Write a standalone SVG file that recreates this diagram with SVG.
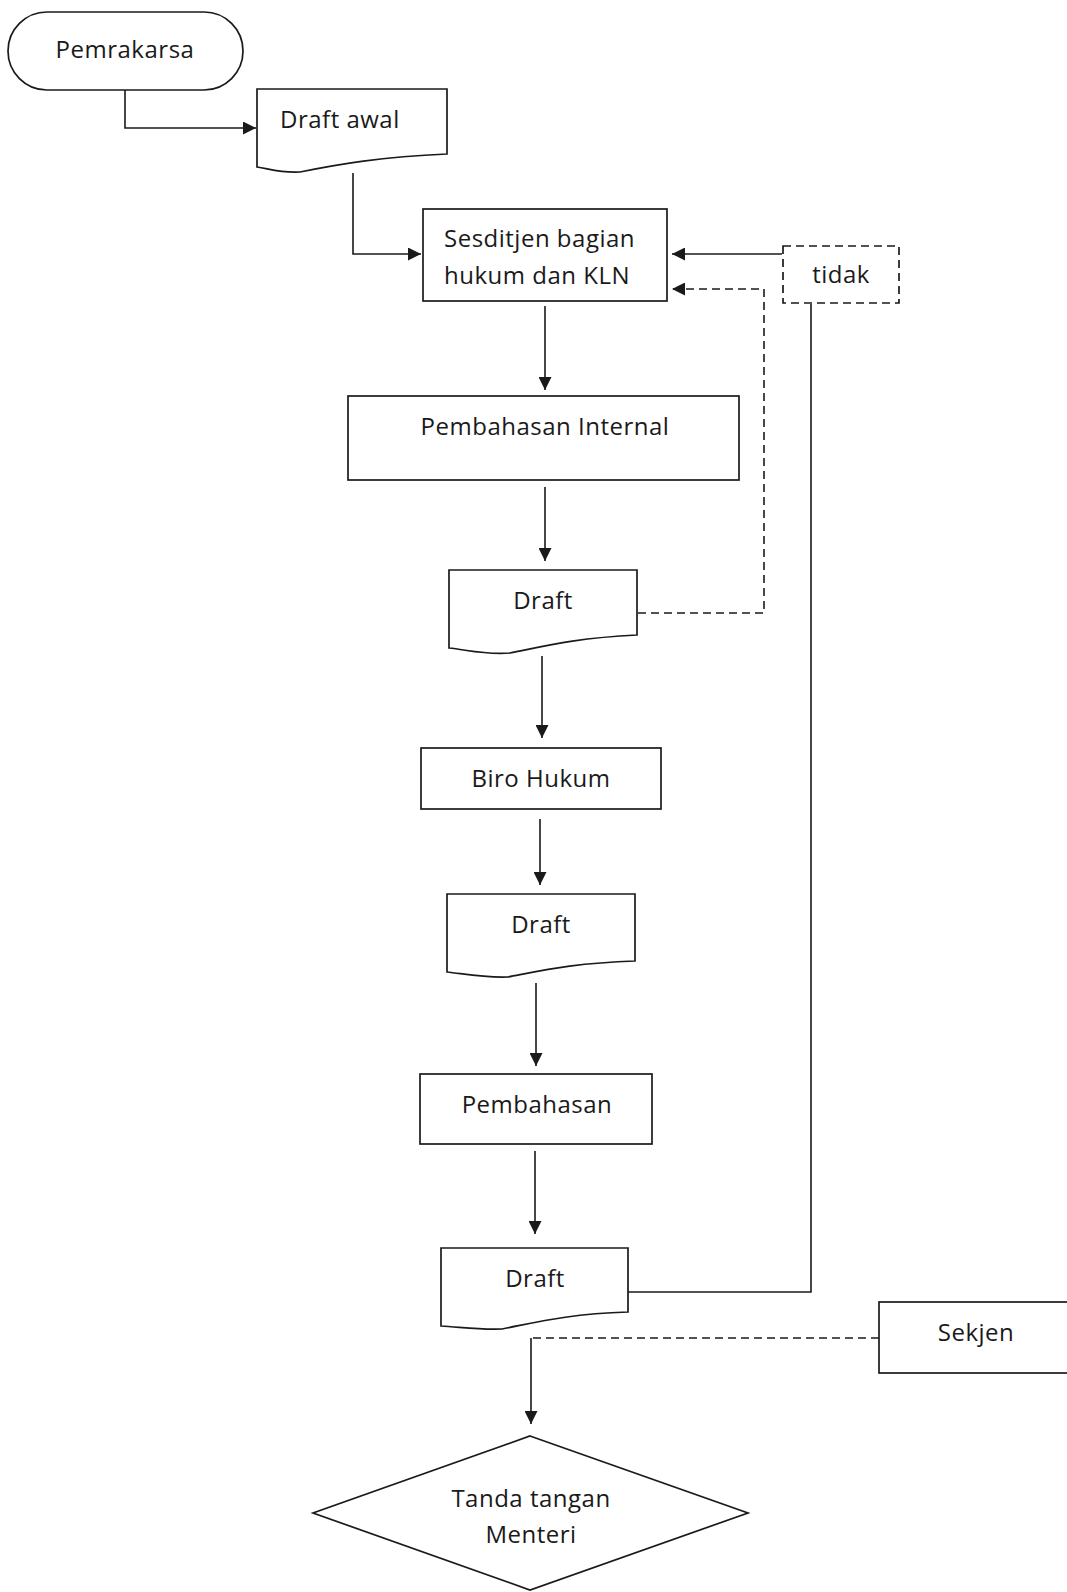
<svg xmlns="http://www.w3.org/2000/svg" width="1067" height="1592" viewBox="0 0 1067 1592">
<style>
  .shape { fill: #ffffff; stroke: #1a1a1a; stroke-width: 1.7; }
  .dshape { fill: #ffffff; stroke: #1a1a1a; stroke-width: 1.7; stroke-dasharray: 8 5; }
  .lbl { font-family: "Open Sans", "Noto Sans", sans-serif; font-size: 24px; fill: #1a1a1a; letter-spacing: 0.5px; }
  .c { text-anchor: middle; }
  .conn { fill: none; stroke: #1a1a1a; stroke-width: 1.6; }
  .dash { stroke-dasharray: 8 5; }
</style>
<defs>
  <marker id="arr" markerUnits="userSpaceOnUse" markerWidth="14" markerHeight="13" refX="13" refY="6.5" orient="auto">
    <path d="M0,0 L13,6.5 L0,13 Z" fill="#1a1a1a"/>
  </marker>
</defs>
<rect width="1067" height="1592" fill="#ffffff"/>

<g id="connectors">
  <path class="conn" d="M125,90 V128 H256" marker-end="url(#arr)"/>
  <path class="conn" d="M353,173 V254 H421" marker-end="url(#arr)"/>
  <path class="conn" d="M545,306 V390" marker-end="url(#arr)"/>
  <path class="conn" d="M545,487 V561" marker-end="url(#arr)"/>
  <path class="conn" d="M542,656 V738" marker-end="url(#arr)"/>
  <path class="conn" d="M540,819 V885" marker-end="url(#arr)"/>
  <path class="conn" d="M536,983 V1066" marker-end="url(#arr)"/>
  <path class="conn" d="M535,1151 V1234" marker-end="url(#arr)"/>
  <path class="conn" d="M628,1292 H811 V304"/>
  <path class="conn" d="M782,254 H672" marker-end="url(#arr)"/>
  <path class="conn dash" d="M638,613 H764 V289 H672" marker-end="url(#arr)"/>
  <path class="conn dash" d="M879,1338 H531"/>
  <path class="conn" d="M531,1338 V1424" marker-end="url(#arr)"/>
</g>

<g id="pemrakarsa">
  <rect class="shape" x="8" y="12" width="235" height="78" rx="39" ry="39"/>
  <text class="lbl c" x="125" y="58">Pemrakarsa</text>
</g>

<g id="draft-awal">
  <path class="shape" d="M257,89 H447 V154 C380,157 340,164 300,172 C280,173 270,169 257,167 Z"/>
  <text class="lbl" x="280" y="128">Draft awal</text>
</g>

<g id="sesditjen">
  <rect class="shape" x="423" y="209" width="244" height="92"/>
  <text class="lbl" x="444" y="247">Sesditjen bagian</text>
  <text class="lbl" x="444" y="284">hukum dan KLN</text>
</g>

<g id="tidak">
  <rect class="dshape" x="783" y="246" width="116" height="57"/>
  <text class="lbl c" x="841" y="283">tidak</text>
</g>

<g id="pembahasan-internal">
  <rect class="shape" x="348" y="396" width="391" height="84"/>
  <text class="lbl c" x="545" y="435">Pembahasan Internal</text>
</g>

<g id="draft-1">
  <path class="shape" d="M449,570 H637 V635 C575,638 545,646 510,653 C485,655 468,650 449,648 Z"/>
  <text class="lbl c" x="543" y="609">Draft</text>
</g>

<g id="biro-hukum">
  <rect class="shape" x="421" y="748" width="240" height="61"/>
  <text class="lbl c" x="541" y="787">Biro Hukum</text>
</g>

<g id="draft-2">
  <path class="shape" d="M447,894 H635 V961 C575,963 545,970 508,977 C485,978 465,974 447,972 Z"/>
  <text class="lbl c" x="541" y="933">Draft</text>
</g>

<g id="pembahasan">
  <rect class="shape" x="420" y="1074" width="232" height="70"/>
  <text class="lbl c" x="537" y="1113">Pembahasan</text>
</g>

<g id="draft-3">
  <path class="shape" d="M441,1248 H628 V1312 C568,1314 538,1322 502,1329 C480,1330 460,1327 441,1326 Z"/>
  <text class="lbl c" x="535" y="1287">Draft</text>
</g>

<g id="sekjen">
  <rect class="shape" x="879" y="1302" width="200" height="71"/>
  <text class="lbl c" x="976" y="1341">Sekjen</text>
</g>

<g id="tanda-tangan">
  <path class="shape" d="M530,1436 L748,1513 L530,1590 L313,1513 Z"/>
  <text class="lbl c" x="531" y="1507">Tanda tangan</text>
  <text class="lbl c" x="531" y="1543">Menteri</text>
</g>
</svg>
